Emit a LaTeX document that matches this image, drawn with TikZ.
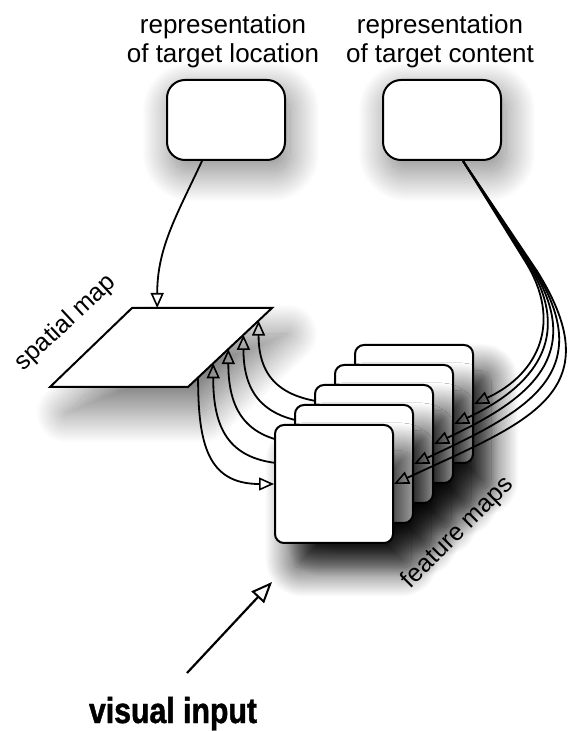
\documentclass[tikz,border=0pt]{standalone}
\usepackage{fontspec}
\setmainfont{Liberation Sans}
\newfontfamily\inputfont[FakeStretch=0.84,FakeBold=1.2]{Liberation Sans}
\usetikzlibrary{calc,arrows.meta,positioning,shadows.blur}
\pgfdeclarelayer{background}
\pgfsetlayers{background,main}
\newcommand\MapSize{118pt}
\newcommand\MapStep{20}
\tikzstyle{toptext}=[align=center,font=\fontsize{26}{29}\selectfont]
\tikzstyle{sidetext}=[font=\fontsize{25}{29}\selectfont]
\tikzstyle{repbox}=[draw,line width=2pt,fill=white,rounded corners=18pt,
                     minimum width=118pt,minimum height=80pt,
                     blur shadow={shadow xshift=5pt,shadow yshift=-12pt,shadow blur radius=30pt,
                                  shadow blur steps=40,shadow opacity=50}]
\tikzstyle{fmap}=[draw,line width=2pt,fill=white,rounded corners=9pt,
                     minimum size=\MapSize,
                     blur shadow={shadow xshift=18pt,shadow yshift=-26pt,shadow blur radius=28pt,
                                  shadow blur steps=40,shadow opacity=85}]
\tikzstyle{smap}=[draw,line width=2pt,fill=white,
                     blur shadow={shadow xshift=16pt,shadow yshift=-26pt,shadow blur radius=30pt,
                                  shadow blur steps=40,shadow opacity=50}]
\tikzstyle{conn}=[line width=1.8pt,-{Triangle[open,length=15pt,width=13pt,line width=1.6pt]}]
\tikzstyle{bigconn}=[line width=2.2pt,-{Triangle[open,length=21pt,width=17pt,line width=2pt]}]
\begin{document}
\begin{tikzpicture}[x=1pt,y=1pt]
  \useasboundingbox (0,0) rectangle (572,731);
  \node[toptext] (loctext) at (223,690) {representation\\of target location};
  \node[toptext] (contenttext) at (440,690) {representation\\of target content};
  \node[repbox] (loc) at (226,611) {};
  \node[repbox] (content) at (442,611) {};
  \coordinate (sm-tl) at (132,423);
  \coordinate (sm-tr) at (272,423);
  \coordinate (sm-br) at (188,344);
  \coordinate (sm-bl) at (50,344);
  \draw[smap] (sm-tl) -- (sm-tr) -- (sm-br) -- (sm-bl) -- cycle;
  \node[sidetext,rotate=43] (smtext) at (66,408) {spatial map};
  \draw[conn] ($(loc.south)+(-24,0)$) to[out=-115,in=90] ($(sm-tl)!0.18!(sm-tr)$);
  \foreach \i in {5,4,3,2,1}
    \node[fmap] (fm\i) at ({334+\MapStep*(\i-1)},{247+\MapStep*(\i-1)}) {};
  \node[sidetext,rotate=45] (fmtext) at (458,198) {feature maps};
  \begin{pgfonlayer}{background}
    \foreach \i [evaluate=\i as \t using 0.12+0.18*(\i-1)] in {2,...,5}
      \draw[conn] (fm\i.west) to[out=180,in=-90,looseness=1.3] ($(sm-br)!\t!(sm-tr)$);
    \draw[conn,{Triangle[open,length=15pt,width=13pt,line width=1.6pt]}-] (fm1.west)
      to[out=180,in=-90,looseness=1.3] ($(sm-br)!0.12!(sm-tr)$);
  \end{pgfonlayer}
  \coordinate (cb) at ($(content.south)+(21,0)$);
  \foreach \i [evaluate=\i as \L using 1.45-0.06*(\i-1)] in {1,...,5}
    \draw[conn] (cb) -- ({537-3*(\i-1)},{460+2.5*(\i-1)}) to[out=-58,in=25,looseness=\L] (fm\i.east);
  \node[font=\inputfont\bfseries\fontsize{36}{40}\selectfont,anchor=base] (visual) at (173,8) {visual input};
  \coordinate (in-tail) at (187,58);
  \coordinate (in-head) at (272,149);
  \draw[bigconn] (in-tail) -- (in-head);
\end{tikzpicture}
\end{document}
